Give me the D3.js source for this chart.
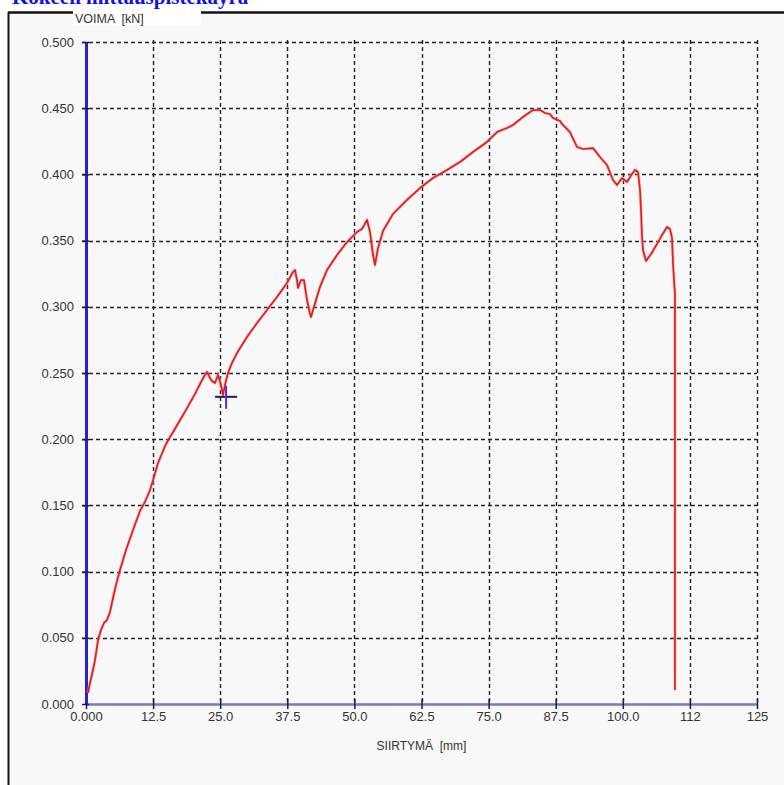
<!DOCTYPE html>
<html>
<head>
<meta charset="utf-8">
<script src="https://cdn.jsdelivr.net/npm/d3@7"></script>
<style>
  html, body { margin: 0; padding: 0; background: #ffffff; }
  svg { display: block; }
</style>
</head>
<body>
<svg id="chart" width="784" height="785"></svg>
<script>
// Displacement (mm) of each measured point
const siirtyma = [
  0.37, 0.75, 1.30, 1.68, 2.24, 2.79, 3.35, 3.91, 4.47, 5.03, 5.59, 6.33, 7.45, 8.76,
  10.06, 10.99, 11.92, 12.67, 13.41, 14.90, 16.77, 18.63, 20.49, 21.80, 22.54, 23.10,
  23.47, 24.03, 24.59, 25.15, 25.52, 25.89, 26.45, 27.20, 28.13, 29.99, 31.86, 33.72,
  35.58, 37.44, 38.56, 38.93, 39.31, 39.49, 40.05, 40.61, 41.17, 41.73, 41.92, 42.29,
  42.85, 43.59, 44.90, 46.76, 48.62, 50.48, 51.42, 52.35, 52.91, 53.47, 53.84, 54.40,
  55.33, 57.19, 59.80, 62.22, 64.64, 67.25, 69.67, 72.09, 74.70, 76.57, 78.43, 79.55,
  81.41, 83.27, 84.58, 85.51, 86.44, 87.00, 88.30, 88.67, 90.16, 91.47, 92.59, 94.45,
  95.75, 97.06, 98.17, 98.92, 99.85, 100.78, 101.71, 102.27, 102.83, 103.21, 103.39,
  103.58, 103.77, 104.32, 105.26, 106.37, 107.30, 108.24, 108.79, 109.17, 109.35,
  109.72, 109.72
];

// Force (kN) at each point
const voima = [
  0.0083, 0.0159, 0.0257, 0.0332, 0.0483, 0.0559, 0.0612, 0.0634, 0.0695, 0.0801, 0.0899,
  0.1012, 0.1163, 0.1314, 0.1458, 0.1526, 0.1616, 0.1715, 0.1820, 0.1964, 0.2092, 0.2221,
  0.2356, 0.2462, 0.2508, 0.2462, 0.2440, 0.2424, 0.2485, 0.2409, 0.2334, 0.2409, 0.2500,
  0.2576, 0.2651, 0.2772, 0.2878, 0.2976, 0.3074, 0.3180, 0.3263, 0.3278, 0.3202, 0.3142,
  0.3202, 0.3202, 0.3051, 0.2946, 0.2923, 0.2976, 0.3051, 0.3150, 0.3278, 0.3391, 0.3489,
  0.3565, 0.3588, 0.3656, 0.3565, 0.3391, 0.3316, 0.3444, 0.3573, 0.3701, 0.3807, 0.3897,
  0.3973, 0.4033, 0.4094, 0.4169, 0.4245, 0.4320, 0.4350, 0.4373, 0.4434, 0.4486, 0.4486,
  0.4464, 0.4456, 0.4426, 0.4403, 0.4381, 0.4320, 0.4207, 0.4192, 0.4199, 0.4131, 0.4071,
  0.3958, 0.3920, 0.3973, 0.3943, 0.4003, 0.4033, 0.4018, 0.3882, 0.3731, 0.3527, 0.3429,
  0.3346, 0.3399, 0.3474, 0.3542, 0.3603, 0.3588, 0.3520, 0.3331, 0.3089, 0.0106
];

// Cursor position
const kursoriX = [26.1];
const kursoriY = [0.232];

// Axis ticks and their labels
const xTicks = [0, 12.5, 25, 37.5, 50, 62.5, 75, 87.5, 100, 112.5, 125];
const xTickLabels = ["0.000", "12.5", "25.0", "37.5", "50.0", "62.5", "75.0", "87.5", "100.0", "112", "125"];
const yTicks = [0, 0.05, 0.1, 0.15, 0.2, 0.25, 0.3, 0.35, 0.4, 0.45, 0.5];
const yTickLabels = ["0.000", "0.050", "0.100", "0.150", "0.200", "0.250", "0.300", "0.350", "0.400", "0.450", "0.500"];

const title = "Kokeen mittauspistekäyrä";
const yTitle = "VOIMA  [kN]";
const xTitle = "SIIRTYMÄ  [mm]";

const svg = d3.select("#chart");
const plot = { left: 86, right: 757, top: 42, bottom: 704 };

const x = d3.scaleLinear().domain([0, 125]).range([plot.left, plot.right]);
const y = d3.scaleLinear().domain([0, 0.5]).range([plot.bottom, plot.top]);

const sans = "Liberation Sans, Arial, sans-serif";

// Panel background and frame
svg.append("rect").attr("x", 9).attr("y", 13).attr("width", 775).attr("height", 772)
  .attr("fill", "#f8f8f8");
svg.append("line").attr("x1", 8).attr("x2", 784).attr("y1", 12.5).attr("y2", 12.5)
  .attr("stroke", "#111").attr("stroke-width", 2.5);
svg.append("line").attr("x1", 8.5).attr("x2", 8.5).attr("y1", 12).attr("y2", 785)
  .attr("stroke", "#111").attr("stroke-width", 2);

// Title, partly above the top edge of the page
svg.append("text").attr("x", 12).attr("y", 4)
  .attr("font-family", "Liberation Serif, Times New Roman, serif")
  .attr("font-weight", "bold").attr("font-size", 21).attr("fill", "#1010ee")
  .text(title);

// Y axis title on a white patch over the frame
svg.append("rect").attr("x", 73).attr("y", 9).attr("width", 128).attr("height", 17)
  .attr("fill", "#ffffff");
svg.append("text").attr("x", 75).attr("y", 23)
  .attr("font-family", sans).attr("font-size", 12.5)
  .attr("fill", "#333").style("white-space", "pre")
  .text(yTitle);

// Grid
const grid = svg.append("g").attr("stroke", "#222").attr("stroke-width", 1.4)
  .attr("stroke-dasharray", "4,3");
grid.selectAll("line.h").data(yTicks.slice(1)).join("line")
  .attr("x1", plot.left - 4).attr("x2", plot.right)
  .attr("y1", d => Math.round(y(d)) + 0.5).attr("y2", d => Math.round(y(d)) + 0.5);
grid.selectAll("line.v").data(xTicks.slice(1)).join("line")
  .attr("x1", d => Math.round(x(d)) + 0.5).attr("x2", d => Math.round(x(d)) + 0.5)
  .attr("y1", plot.top - 2).attr("y2", plot.bottom);

// X axis
const xAxis = d3.axisBottom(x).tickValues(xTicks)
  .tickFormat((d, i) => xTickLabels[i]).tickSize(0).tickPadding(8);
const gx = svg.append("g").attr("transform", `translate(0,${plot.bottom})`).call(xAxis);
gx.select(".domain").attr("stroke", "#7a7ab8").attr("stroke-width", 2.5);
gx.selectAll("text").attr("font-family", sans)
  .attr("font-size", 13).attr("fill", "#333");
gx.selectAll(".tick").append("line").attr("y1", -5).attr("y2", 5)
  .attr("stroke", "#1a1a5a").attr("stroke-width", 1.5);

// Y axis
const yAxis = d3.axisLeft(y).tickValues(yTicks)
  .tickFormat((d, i) => yTickLabels[i]).tickSize(0).tickPadding(12);
const gy = svg.append("g").attr("transform", `translate(${plot.left},0)`).call(yAxis);
gy.select(".domain").attr("stroke", "#2a22c8").attr("stroke-width", 3);
gy.selectAll("text").attr("font-family", sans)
  .attr("font-size", 13).attr("fill", "#333");
gy.selectAll(".tick").append("line").attr("x1", -4).attr("x2", 3)
  .attr("stroke", "#1a1a5a").attr("stroke-width", 1.5);

// X axis title
svg.append("text").attr("x", x(62.5)).attr("y", 750).attr("text-anchor", "middle")
  .attr("font-family", sans).attr("font-size", 12)
  .attr("fill", "#333").style("white-space", "pre")
  .text(xTitle);

// Measurement curve
const pts = siirtyma.map((v, i) => [v, voima[i]]);
const line = d3.line().x(d => x(d[0])).y(d => y(d[1]));
svg.append("path").datum(pts).attr("d", line).attr("fill", "none")
  .attr("stroke", "#f4a0a0").attr("stroke-width", 3.2).attr("stroke-linejoin", "round")
  .attr("opacity", 0.6);
svg.append("path").datum(pts).attr("d", line).attr("fill", "none")
  .attr("stroke", "#dc1f1f").attr("stroke-width", 1.7).attr("stroke-linejoin", "round");

// Cursor cross
const cx = x(kursoriX[0]), cy = y(kursoriY[0]);
svg.append("line").attr("x1", cx - 11).attr("x2", cx + 11).attr("y1", cy).attr("y2", cy)
  .attr("stroke", "#1c1c6a").attr("stroke-width", 2);
svg.append("line").attr("x1", cx).attr("x2", cx).attr("y1", cy - 11).attr("y2", cy + 12)
  .attr("stroke", "#5a2ad0").attr("stroke-width", 2);
</script>
</body>
</html>
